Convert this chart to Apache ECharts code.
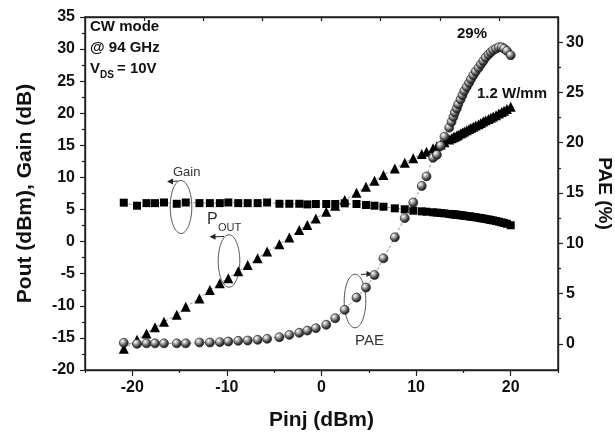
<!DOCTYPE html>
<html>
<head>
<meta charset="utf-8">
<script src="https://cdn.jsdelivr.net/npm/echarts@6/dist/echarts.min.js"></script>
<style>
html,body{margin:0;padding:0;background:#fff;}
#chart{width:615px;height:438px;}
</style>
</head>
<body>
<div id="chart"></div>
<script>
// ---- data ----
const pinj = [-20.9, -19.5, -18.5, -17.6, -16.65, -15.3, -14.35, -12.9, -11.8, -10.75,
  -9.85, -8.8, -7.8, -6.75, -5.75, -4.45, -3.4, -2.35, -1.5, -0.6,
  0.5, 1.45, 2.45, 3.7, 4.7, 5.6, 6.55, 7.75, 8.8, 9.7,
  10.6, 11.1, 11.8, 12.2, 12.6, 13.0, 13.5, 13.75, 13.95, 14.1,
  14.3, 14.45, 14.7, 14.9, 15.1, 15.35, 15.6, 15.8, 16.05, 16.3,
  16.6, 16.85, 17.1, 17.35, 17.65, 17.9, 18.15, 18.45, 18.75, 19.05,
  19.3, 19.6, 20.0];
const gain = [6.07, 5.6, 6.0, 6.0, 6.1, 5.9, 6.1, 6.0, 6.0, 6.0,
  6.1, 6.0, 6.0, 6.0, 6.1, 5.9, 5.9, 5.9, 5.8, 5.86,
  5.86, 5.86, 5.97, 5.86, 5.71, 5.6, 5.44, 5.19, 5.04, 4.82,
  4.72, 4.66, 4.57, 4.52, 4.46, 4.40, 4.32, 4.28, 4.25, 4.22,
  4.19, 4.16, 4.12, 4.08, 4.04, 3.99, 3.94, 3.90, 3.85, 3.79,
  3.72, 3.66, 3.60, 3.53, 3.45, 3.38, 3.30, 3.21, 3.11, 3.00,
  2.90, 2.78, 2.55];
const pout = [-16.7, -15.3, -14.3, -13.35, -12.5, -11.4, -10.15, -8.85, -7.55, -6.5,
  -5.7, -4.6, -3.65, -2.6, -1.55, -0.4, 0.65, 1.8, 2.6, 3.6,
  4.65, 5.6, 6.5, 7.6, 8.55, 9.5, 10.4, 11.4, 12.3, 13.0,
  13.65, 14.0, 14.55, 14.85, 15.15, 15.5, 15.9, 16.1, 16.25, 16.35,
  16.5, 16.65, 16.85, 17.0, 17.15, 17.35, 17.55, 17.7, 17.9, 18.1,
  18.3, 18.5, 18.7, 18.9, 19.1, 19.3, 19.5, 19.7, 19.95, 20.2,
  20.4, 20.65, 21.0];
const pae = [0.1, 0.0, 0.05, 0.05, 0.05, 0.05, 0.05, 0.13, 0.13, 0.17,
  0.23, 0.3, 0.33, 0.4, 0.5, 0.66, 0.89, 1.1, 1.32, 1.56,
  1.9, 2.55, 3.38, 4.6, 5.6, 6.85, 8.5, 10.6, 12.5, 14.05,
  15.7, 16.65, 18.5, 18.8, 19.7, 20.6, 21.5, 22.08, 22.57, 23.0,
  23.4, 23.83, 24.3, 24.73, 25.15, 25.55, 25.95, 26.32, 26.71, 27.08,
  27.44, 27.8, 28.13, 28.47, 28.77, 29.0, 29.2, 29.36, 29.49, 29.49,
  29.36, 29.13, 28.7];
const xMajorTicks = [-20, -10, 0, 10, 20];
const xMinorTicks = [-25, -15, -5, 5, 15, 25];
const topTicks = [-18.75, -12.5, -6.25, 0, 6.25, 12.5, 18.75];
const paeMajorTicks = [0, 5, 10, 15, 20, 25, 30];
const paeMinorTicks = [2.5, 7.5, 12.5, 17.5, 22.5, 27.5];

// ---- chart ----
const FONT = "'Liberation Sans', Arial, sans-serif";
const axisLineStyle = {color: '#222', width: 1.4};
const tickLabel = {color: '#111', fontFamily: FONT, fontWeight: 'bold', fontSize: 16};
const chart = echarts.init(document.getElementById('chart'), null, {renderer: 'canvas'});

const sphere = {
  type: 'radial', x: 0.35, y: 0.32, r: 0.75,
  colorStops: [
    {offset: 0, color: '#ffffff'},
    {offset: 0.22, color: '#c4c4c4'},
    {offset: 0.65, color: '#444'},
    {offset: 1, color: '#0c0c0c'}
  ]
};
const thinLine = {color: '#777', width: 0.8, type: [3, 2]};

const graphics = [
  {type: 'text', left: 90, top: 19, style: {text: 'CW mode', font: "bold 15px " + FONT, fill: '#111'}},
  {type: 'text', left: 90, top: 40, style: {text: '@ 94 GHz', font: "bold 15px " + FONT, fill: '#111'}},
  {type: 'text', left: 90, top: 61, style: {text: 'V', font: "bold 15px " + FONT, fill: '#111'}},
  {type: 'text', left: 100, top: 70, style: {text: 'DS', font: "bold 10px " + FONT, fill: '#111'}},
  {type: 'text', left: 117, top: 61, style: {text: '= 10V', font: "bold 15px " + FONT, fill: '#111'}},
  {type: 'text', left: 457, top: 26, style: {text: '29%', font: "bold 15px " + FONT, fill: '#111'}},
  {type: 'text', left: 477, top: 86, style: {text: '1.2 W/mm', font: "bold 15px " + FONT, fill: '#111'}},
  {type: 'ellipse', shape: {cx: 181, cy: 207, rx: 10.8, ry: 26.5}, style: {fill: 'none', stroke: '#444', lineWidth: 0.9}},
  {type: 'line', shape: {x1: 178, y1: 181, x2: 171, y2: 181.5}, style: {stroke: '#222', lineWidth: 1}},
  {type: 'polygon', shape: {points: [[167, 181.5], [173, 178.5], [173, 184.5]]}, style: {fill: '#222'}},
  {type: 'text', left: 173, top: 166, style: {text: 'Gain', font: "13px " + FONT, fill: '#333'}},
  {type: 'ellipse', shape: {cx: 229, cy: 261, rx: 10.8, ry: 26.2}, style: {fill: 'none', stroke: '#444', lineWidth: 0.9}},
  {type: 'line', shape: {x1: 224, y1: 236.5, x2: 214, y2: 236.8}, style: {stroke: '#222', lineWidth: 1}},
  {type: 'polygon', shape: {points: [[209.5, 236.8], [215.5, 233.8], [215.5, 239.8]]}, style: {fill: '#222'}},
  {type: 'text', left: 207, top: 212, style: {text: 'P', font: "16px " + FONT, fill: '#333'}},
  {type: 'text', left: 218, top: 222, style: {text: 'OUT', font: "11px " + FONT, fill: '#333'}},
  {type: 'ellipse', shape: {cx: 355, cy: 301, rx: 10.8, ry: 26.8}, style: {fill: 'none', stroke: '#444', lineWidth: 0.9}},
  {type: 'line', shape: {x1: 361, y1: 274.5, x2: 367, y2: 274}, style: {stroke: '#222', lineWidth: 1}},
  {type: 'polygon', shape: {points: [[372.5, 274], [366.5, 271], [366.5, 277]]}, style: {fill: '#222'}},
  {type: 'text', left: 355, top: 333, style: {text: 'PAE', font: "15px " + FONT, fill: '#333'}}
];

const option = {
  animation: false,
  backgroundColor: '#fff',
  grid: {left: 85, right: 57, top: 17, bottom: 68, containLabel: false, outerBoundsMode: 'none'},
  xAxis: [
    {
      type: 'value', position: 'bottom', min: -25, max: 25,
      name: 'Pinj (dBm)', nameLocation: 'middle', nameGap: 40,
      nameTextStyle: {color: '#111', fontFamily: FONT, fontWeight: 'bold', fontSize: 21},
      axisLine: {show: true, onZero: false, lineStyle: axisLineStyle},
      axisTick: {show: true, inside: false, length: 6, customValues: xMajorTicks, lineStyle: {color: '#222', width: 1.2}},
      axisLabel: Object.assign({margin: 10, customValues: xMajorTicks}, tickLabel),
      splitLine: {show: false}
    },
    {
      type: 'value', position: 'bottom', min: -25, max: 25,
      axisLine: {show: false, onZero: false},
      axisTick: {show: true, inside: false, length: 3, customValues: xMinorTicks, lineStyle: {color: '#222', width: 1.2}},
      axisLabel: {show: false},
      splitLine: {show: false}
    },
    {
      type: 'value', position: 'top', min: -25, max: 25, z: 10,
      axisLine: {show: true, onZero: false, lineStyle: axisLineStyle},
      axisTick: {show: true, inside: true, length: 4, customValues: topTicks, lineStyle: {color: '#222', width: 1.2}},
      axisLabel: {show: false},
      splitLine: {show: false}
    }
  ],
  yAxis: [
    {
      type: 'value', position: 'left', min: -20, max: 35, interval: 5,
      name: 'Pout (dBm), Gain (dB)', nameLocation: 'middle', nameGap: 49,
      nameTextStyle: {color: '#111', fontFamily: FONT, fontWeight: 'bold', fontSize: 21},
      axisLine: {show: true, onZero: false, lineStyle: axisLineStyle},
      axisTick: {show: true, inside: false, length: 5, lineStyle: {color: '#222', width: 1.2}},
      minorTick: {show: true, splitNumber: 2, length: 3, lineStyle: {color: '#222', width: 1.2}},
      axisLabel: Object.assign({margin: 10}, tickLabel),
      splitLine: {show: false}
    },
    {
      type: 'value', position: 'right', min: -2.6, max: 32.5,
      name: 'PAE (%)', nameLocation: 'middle', nameGap: 33, nameRotate: -90,
      nameTextStyle: {color: '#111', fontFamily: FONT, fontWeight: 'bold', fontSize: 19},
      axisLine: {show: true, onZero: false, lineStyle: axisLineStyle},
      axisTick: {show: true, inside: false, length: 5, customValues: paeMajorTicks, lineStyle: {color: '#222', width: 1.2}},
      axisLabel: Object.assign({margin: 8, customValues: paeMajorTicks}, tickLabel),
      splitLine: {show: false}
    },
    {
      type: 'value', position: 'right', min: -2.6, max: 32.5,
      axisLine: {show: false, onZero: false},
      axisTick: {show: true, inside: false, length: 3, customValues: paeMinorTicks, lineStyle: {color: '#222', width: 1.2}},
      axisLabel: {show: false},
      splitLine: {show: false}
    }
  ],
  series: [
    {
      name: 'Gain', type: 'line', xAxisIndex: 0, yAxisIndex: 0,
      data: pinj.map((x, i) => [x, gain[i]]),
      symbol: 'rect', symbolSize: 8,
      itemStyle: {color: '#000'},
      lineStyle: thinLine, z: 2
    },
    {
      name: 'Pout', type: 'line', xAxisIndex: 0, yAxisIndex: 0,
      data: pinj.map((x, i) => [x, pout[i]]),
      symbol: 'triangle', symbolSize: 10,
      itemStyle: {color: '#000'},
      lineStyle: thinLine, z: 3
    },
    {
      name: 'PAE', type: 'line', xAxisIndex: 0, yAxisIndex: 1,
      data: pinj.map((x, i) => [x, pae[i]]),
      symbol: 'circle', symbolSize: 9,
      itemStyle: {color: sphere, borderColor: '#151515', borderWidth: 0.6},
      lineStyle: thinLine, z: 4
    }
  ],
  graphic: graphics
};
chart.setOption(option);

// full plot frame drawn from the library's own grid rectangle
try {
  const rect = chart.getModel().getComponent('grid').coordinateSystem.getRect();
  chart.setOption({graphic: graphics.concat([{
    type: 'rect', z: 100, silent: true,
    shape: {x: rect.x, y: rect.y, width: rect.width, height: rect.height},
    style: {fill: 'none', stroke: '#222', lineWidth: 1.5}
  }])});
} catch (e) {}
</script>
</body>
</html>
